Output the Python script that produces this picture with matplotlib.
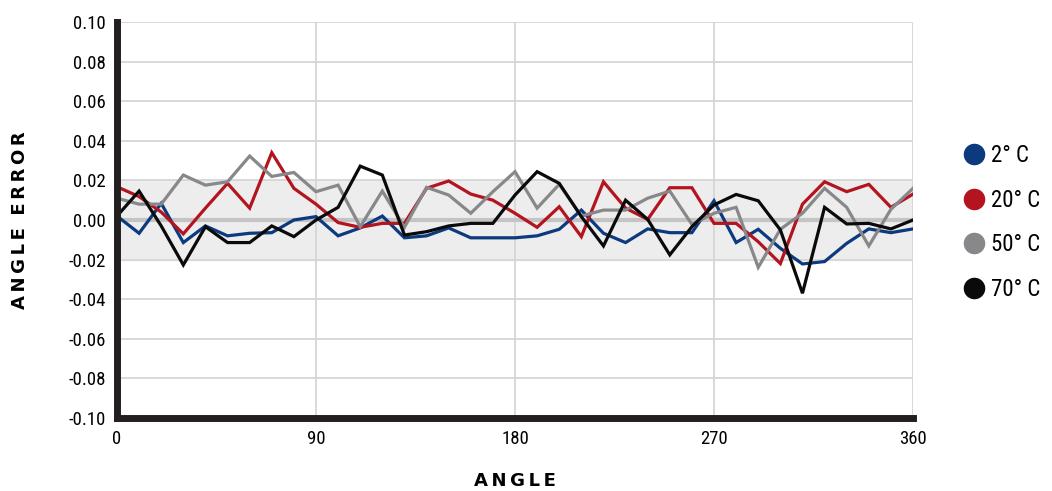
import matplotlib.pyplot as plt
from matplotlib import font_manager
from matplotlib.lines import Line2D

# pick a narrow face if one is installed
names = {f.name for f in font_manager.fontManager.ttflist}
narrow = [n for n in ["Liberation Sans Narrow", "DejaVu Sans Condensed", "Roboto Condensed",
                      "Open Sans Condensed", "Noto Sans Condensed"] if n in names]
plt.rcParams['font.family'] = narrow + ['Liberation Sans', 'DejaVu Sans']

# angle positions, one reading every 10 degrees
angles = list(range(0, 361, 10))

err_2c = [0.002, -0.0067, 0.0084, -0.0114, -0.003, -0.008, -0.0067, -0.0064, 0.0, 0.0017,
          -0.008, -0.004, 0.002, -0.009, -0.008, -0.004, -0.009, -0.009, -0.009, -0.008,
          -0.0047, 0.005, -0.0067, -0.0114, -0.0045, -0.0064, -0.0064, 0.0097, -0.0114, -0.0047,
          -0.0143, -0.0222, -0.021, -0.0118, -0.0045, -0.0064, -0.0045]
err_20c = [0.0168, 0.0118, 0.004, -0.007, 0.006, 0.0185, 0.006, 0.034, 0.016, 0.008,
           -0.0013, -0.0037, -0.0017, -0.0017, 0.016, 0.0197, 0.0131, 0.010, 0.0034, -0.0037,
           0.0067, -0.0084, 0.0193, 0.006, 0.0003, 0.0163, 0.0163, -0.0017, -0.0017, -0.011,
           -0.022, 0.008, 0.0193, 0.0143, 0.018, 0.0064, 0.0131]
err_50c = [0.011, 0.008, 0.008, 0.0227, 0.0176, 0.0193, 0.0323, 0.022, 0.024, 0.0143,
           0.0176, -0.0034, 0.0146, -0.0037, 0.0165, 0.0126, 0.0034, 0.0143, 0.0244, 0.006,
           0.018, 0.002, 0.005, 0.005, 0.011, 0.0146, -0.0022, 0.0034, 0.0064, -0.0239,
           -0.0047, 0.0034, 0.016, 0.0064, -0.0131, 0.0054, 0.016]
err_70c = [0.002, 0.0146, -0.003, -0.0227, -0.0034, -0.0114, -0.0114, -0.003, -0.0084, 0.0,
           0.0064, 0.0272, 0.0227, -0.0076, -0.0059, -0.003, -0.0017, -0.0017, 0.0126, 0.0244,
           0.0185, 0.0017, -0.0131, 0.010, 0.0003, -0.0176, -0.0034, 0.0076, 0.0129, 0.0097,
           -0.005, -0.037, 0.0064, -0.002, -0.0017, -0.0045, 0.0]

series = [("2° C", err_2c, "#0b3a7e"),
          ("20° C", err_20c, "#b3141f"),
          ("50° C", err_50c, "#88888b"),
          ("70° C", err_70c, "#0a0a0a")]

fig = plt.figure(figsize=(10.52, 4.91), dpi=100)
ax = fig.add_axes([0.1112, 0.1487, 0.7567, 0.8065])

# tolerance band and zero line
ax.axhspan(-0.02, 0.02, color="#ededed", zorder=0)
ax.axhline(0, color="#c4c4c4", linewidth=3, zorder=1)

for name, vals, col in series:
    ax.plot(angles, vals, color=col, linewidth=2.3, zorder=3, solid_joinstyle="miter")

ax.set_xlim(0, 360)
ax.set_ylim(-0.10, 0.10)
ax.set_xticks([0, 90, 180, 270, 360])
ax.set_yticks([i / 100 for i in range(-10, 11, 2)])
ax.set_yticklabels([f"{i / 100:.2f}" for i in range(-10, 11, 2)])
ax.tick_params(length=0, labelsize=13.5)
ax.tick_params(axis="y", pad=8)
ax.tick_params(axis="x", pad=9)
ax.grid(True, color="#d6d6d6", linewidth=1.3, zorder=0)
ax.set_axisbelow(True)

for side in ["top", "right"]:
    ax.spines[side].set_visible(False)
for side in ["left", "bottom"]:
    ax.spines[side].set_linewidth(5)
    ax.spines[side].set_color("#231f20")
    ax.spines[side].set_zorder(4)

sp = "\u2009"
ax.set_xlabel(sp.join("ANGLE"), fontsize=13, fontweight="bold", labelpad=17,
              family=["DejaVu Sans"])
ax.set_ylabel(sp.join("ANGLE") + "  " + sp.join("ERROR"), fontsize=13, fontweight="bold",
              labelpad=28, family=["DejaVu Sans"])

handles = [Line2D([], [], linestyle="none", marker="o", markersize=14.5,
                  markerfacecolor=col, markeredgecolor=col) for _, _, col in series]
fig.legend(handles, [s[0] for s in series], loc="center left",
           bbox_to_anchor=(0.893, 0.547), frameon=False, fontsize=16.5,
           labelspacing=0.95, handletextpad=0.15, handlelength=1.2)

fig.savefig("out.png", dpi=100)
